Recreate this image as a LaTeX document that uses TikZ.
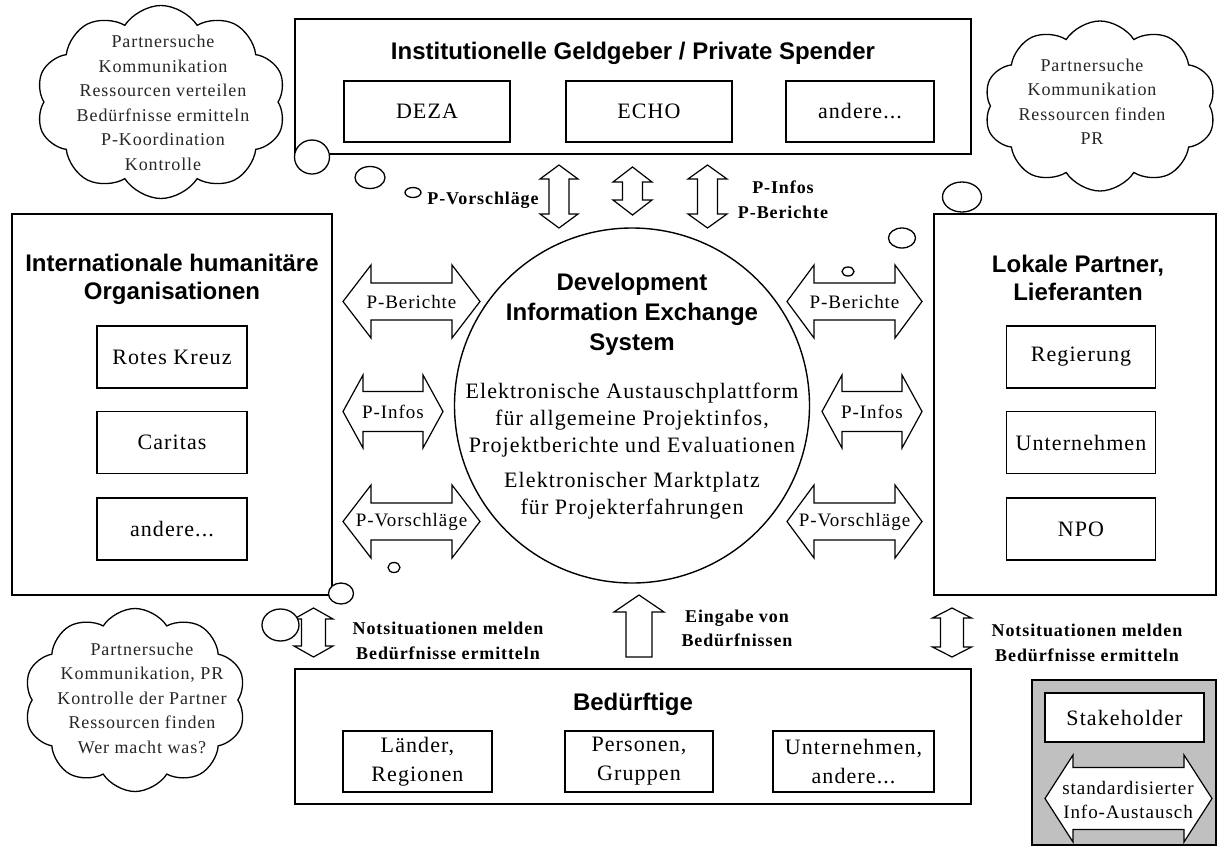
\documentclass[tikz,border=0pt]{standalone}
\usepackage{fontspec}
\setmainfont{Liberation Serif}[LetterSpace=5]
\newfontfamily\hd{Liberation Sans}
\usetikzlibrary{shapes.symbols}
\definecolor{legendgray}{RGB}{192,192,192}
\newcommand\VArr[6]{% x, ytop, ybot, halfshaft, halfhead, headlen
  \draw[blockarr] (#1-#5,#2+#6) -- (#1,#2) -- (#1+#5,#2+#6) -- (#1+#4,#2+#6) -- (#1+#4,#3-#6) -- (#1+#5,#3-#6) -- (#1,#3) -- (#1-#5,#3-#6) -- (#1-#4,#3-#6) -- (#1-#4,#2+#6) -- cycle;}
\newcommand\HArr[6]{% xleft, xright, yc, halfshaft, halfhead, headlen
  \draw[blockarr] (#1,#3) -- (#1+#6,#3-#5) -- (#1+#6,#3-#4) -- (#2-#6,#3-#4) -- (#2-#6,#3-#5) -- (#2,#3) -- (#2-#6,#3+#5) -- (#2-#6,#3+#4) -- (#1+#6,#3+#4) -- (#1+#6,#3+#5) -- cycle;}
\begin{document}
\begin{tikzpicture}[x=1pt,y=-1pt,
  outerbox/.style={draw, line width=1.8pt, rectangle, inner sep=0pt},
  ibox/.style={draw, line width=1.4pt, rectangle, fill=white, inner sep=0pt, align=center,
     font=\fontsize{22}{29}\selectfont},
  head/.style={font=\hd\bfseries\fontsize{24}{28}\selectfont, align=center, inner sep=0pt},
  blockarr/.style={draw, line width=1.2pt, fill=white, line join=miter},
  arrlabel/.style={font=\fontsize{19}{24}\selectfont, inner sep=0pt},
  boldlabel/.style={font=\bfseries\fontsize{18}{24.5}\selectfont, align=center, inner sep=0pt},
  cloudtxt/.style={font=\fontsize{18}{24.5}\selectfont, align=center, inner sep=0pt, text=black!85},
  bubble/.style={draw, line width=1.3pt, fill=white},
  cloudshape/.style={cloud, draw, line width=1.3pt, cloud puffs=10, cloud puff arc=115,
     cloud ignores aspect, inner sep=0pt}
]
\useasboundingbox (0,0) rectangle (1224,849);
\fill[white] (0,0) rectangle (1224,849);

% ---------- clouds ----------
\node[cloudshape, minimum width=250pt, minimum height=193pt] (cloudA) at (161,102) {};
\node[cloudtxt] (cloudAtxt) at (163,103) {Partnersuche\\Kommunikation\\Ressourcen verteilen\\Bedürfnisse ermitteln\\P-Koordination\\Kontrolle};
\node[cloudshape, minimum width=232pt, minimum height=170pt] (cloudB) at (1100,106) {};
\node[cloudtxt] (cloudBtxt) at (1092,102) {Partnersuche\\Kommunikation\\Ressourcen finden\\PR};
\node[cloudshape, minimum width=222pt, minimum height=183pt] (cloudC) at (135,700) {};
\node[cloudtxt] (cloudCtxt) at (142,698) {Partnersuche\\Kommunikation, PR\\Kontrolle der Partner\\Ressourcen finden\\Wer macht was?};

% ---------- top box ----------
\node[outerbox, minimum width=676pt, minimum height=135pt] (top) at (633,86.5) {};
\node[head] (toptitle) at (633,53) {Institutionelle Geldgeber / Private Spender};
\node[ibox, minimum width=166pt, minimum height=61pt] (deza) at (427,111.5) {DEZA};
\node[ibox, minimum width=166pt, minimum height=61pt] (echo) at (649,111.5) {ECHO};
\node[ibox, minimum width=148pt, minimum height=61pt] (andereA) at (860,111.5) {andere...};

% ---------- left box ----------
\node[outerbox, minimum width=320pt, minimum height=381pt] (left) at (172,404.5) {};
\node[head] (lefttitle) at (172,279) {Internationale humanitäre\\Organisationen};
\node[ibox, minimum width=150pt, minimum height=62pt] (rk) at (172,357) {Rotes Kreuz};
\node[ibox, minimum width=150pt, minimum height=62pt] (caritas) at (172,442.5) {Caritas};
\node[ibox, minimum width=150pt, minimum height=62pt] (andereB) at (172,529) {andere...};

% ---------- right box ----------
\node[outerbox, minimum width=282pt, minimum height=381pt] (right) at (1075,404.5) {};
\node[head] (righttitle) at (1078,278) {Lokale Partner,\\Lieferanten};
\node[ibox, minimum width=149pt, minimum height=62pt] (reg) at (1081,357) {Regierung};
\node[ibox, minimum width=149pt, minimum height=62pt] (unt) at (1081,442.5) {Unternehmen};
\node[ibox, minimum width=149pt, minimum height=62pt] (npo) at (1081,529) {NPO};

% ---------- bottom box ----------
\node[outerbox, minimum width=676pt, minimum height=135pt] (bottom) at (633,736.5) {};
\node[head] (bottomtitle) at (633,704) {Bedürftige};
\node[ibox, minimum width=149pt, minimum height=61pt] (laender) at (417.5,761.5) {Länder,\\Regionen};
\node[ibox, minimum width=148pt, minimum height=61pt] (personen) at (639,761.5) {Personen,\\Gruppen};
\node[ibox, minimum width=161pt, minimum height=61pt] (unternA) at (853.5,761.5) {Unternehmen,\\andere...};

% ---------- central circle ----------
\node[circle, draw, line width=1.4pt, minimum size=355pt, inner sep=0pt] (dies) at (632,405.5) {};
\node[head, font=\hd\bfseries\fontsize{24}{30}\selectfont] (diestitle) at (632,314) {Development\\Information Exchange\\System};
\node[align=center, inner sep=0pt, font=\fontsize{22}{27}\selectfont] (plattform) at (632,420) {Elektronische Austauschplattform\\für allgemeine Projektinfos,\\Projektberichte und Evaluationen};
\node[align=center, inner sep=0pt, font=\fontsize{22}{27}\selectfont] (markt) at (632,496) {Elektronischer Marktplatz\\für Projekterfahrungen};

% ---------- top arrows ----------
\VArr{559}{165}{228}{10}{19}{14}
\VArr{632.5}{167}{215}{10}{19.5}{15}
\VArr{707.5}{165}{228}{10}{19.5}{14}
\node[boldlabel] (lblVorA) at (483,200) {P-Vorschläge};
\node[boldlabel] (lblInfA) at (783,199.5) {P-Infos\\P-Berichte};

% ---------- left arrows ----------
\HArr{343}{480}{301.5}{18.5}{36.5}{28}
\HArr{343}{443}{411.5}{20}{36.5}{20}
\HArr{343}{480}{521.5}{18.5}{36.5}{28}
\node[arrlabel] (lBer) at (411.5,301.5) {P-Berichte};
\node[arrlabel] (lInf) at (393,411.5) {P-Infos};
\node[arrlabel] (lVor) at (411.5,521.5) {P-Vorschläge};

% ---------- right arrows ----------
\HArr{787}{922}{301.5}{18.5}{36.5}{27}
\HArr{822}{922}{411.5}{20}{36.5}{20}
\HArr{787}{922}{521.5}{18.5}{36.5}{27}
\node[arrlabel] (rBer) at (854.5,301.5) {P-Berichte};
\node[arrlabel] (rInf) at (872,411.5) {P-Infos};
\node[arrlabel] (rVor) at (854.5,521.5) {P-Vorschläge};

% ---------- bottom arrows ----------
\VArr{313.5}{608}{657}{12}{19.5}{11}
\VArr{952}{608}{657}{11.5}{19.5}{10}
\draw[blockarr] (614,612) -- (639,595) -- (664,612) -- (652,612) -- (652,657) -- (626,657) -- (626,612) -- cycle;
\node[boldlabel] (lblNotL) at (448,641) {Notsituationen melden\\Bedürfnisse ermitteln};
\node[boldlabel] (lblEin) at (737,628.5) {Eingabe von\\Bedürfnissen};
\node[boldlabel] (lblNotR) at (1087,643) {Notsituationen melden\\Bedürfnisse ermitteln};

% ---------- thought bubbles ----------
\draw[bubble] (312,157) ellipse [x radius=17.5, y radius=17];
\draw[bubble] (370,177.5) ellipse [x radius=15, y radius=11];
\draw[bubble] (413,192.5) ellipse [x radius=8, y radius=5];
\draw[bubble] (962,197) ellipse [x radius=19.5, y radius=15];
\draw[bubble] (902,238) ellipse [x radius=13.5, y radius=10];
\draw[bubble] (848,271.5) ellipse [x radius=6, y radius=4.5];
\draw[bubble] (341,593.5) ellipse [x radius=12.5, y radius=10.5];
\draw[bubble] (394,567.5) ellipse [x radius=6, y radius=5];
\draw[bubble] (280.5,625) ellipse [x radius=18.5, y radius=16];

% ---------- legend ----------
\node[draw, line width=1.5pt, fill=legendgray, minimum width=184pt, minimum height=165pt, inner sep=0pt] (legend) at (1124,762.5) {};
\node[ibox, minimum width=159pt, minimum height=49pt] (stake) at (1124.5,717.5) {Stakeholder};
\HArr{1045}{1212}{798.5}{31}{43.5}{28}
\node[arrlabel, align=center, font=\fontsize{19}{24}\selectfont] (stdinfo) at (1128,800) {standardisierter\\Info-Austausch};
\end{tikzpicture}
\end{document}
